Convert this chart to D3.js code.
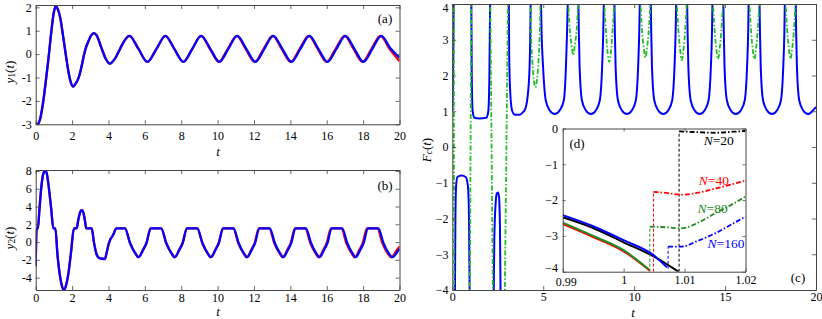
<!DOCTYPE html>
<html>
<head>
<meta charset="utf-8">
<script src="https://cdn.jsdelivr.net/npm/d3@7"></script>
<style>
body { margin: 0; background: #fff; }
svg { display: block; }
</style>
</head>
<body>
<svg id="fig" width="822" height="319" font-family="Liberation Serif, Tinos, DejaVu Serif, serif"></svg>
<script>
// ---- data ----
const tTicksAB = [0, 2, 4, 6, 8, 10, 12, 14, 16, 18, 20];
const yTicksA = [-3, -2, -1, 0, 1, 2];
const yTicksB = [-4, -2, 0, 2, 4, 6, 8];
const tTicksC = [0, 5, 10, 15, 20];
const yTicksC = [-4, -3, -2, -1, 0, 1, 2, 3, 4];
const tTicksD = [0.99, 1, 1.01, 1.02];
const yTicksD = [-4, -3, -2, -1, 0];

// (a) y1(t)
const y1Blue = [[0,-3.0],[0.12,-2.98],[0.25,-2.75],[0.4,-2.1],[0.55,-1.2],[0.7,-0.2],[0.85,0.9],[1.0,1.8],[1.1,2.05],[1.2,1.95],
  [1.35,1.55],[1.5,0.8],[1.65,0],[1.8,-0.75],[1.95,-1.25],[2.07,-1.39],[2.2,-1.25],[2.34,-1.05],[2.5,-0.6],[2.65,-0.05],
  [2.77,0.3],[2.9,0.55],[3.05,0.8],[3.2,0.9],[3.35,0.8],[3.6,0.3],[3.85,-0.2],[4.08,-0.41],[4.35,-0.2],[4.62,0.2],
  [4.9,0.6],[5.15,0.78],[5.65,0.225],[6.14,-0.33],[6.64,0.225],[7.13,0.78],[7.62,0.225],[8.12,-0.33],[8.61,0.225],
  [9.1,0.78],[9.6,0.225],[10.1,-0.33],[10.59,0.225],[11.08,0.78],[11.58,0.225],[12.08,-0.33],[12.57,0.225],
  [13.06,0.78],[13.56,0.225],[14.06,-0.33],[14.55,0.225],[15.05,0.78],[15.54,0.225],[16.04,-0.33],[16.53,0.225],
  [17.03,0.78],[17.52,0.225],[18.02,-0.33],[18.51,0.225],[19.0,0.78],[19.5,0.25],[20,-0.15]];
const y1Red = [[0,-3.0],[0.12,-2.98],[0.25,-2.75],[0.4,-2.1],[0.55,-1.2],[0.7,-0.2],[0.85,0.9],[1.0,1.8],[1.1,2.05],[1.2,1.95],
  [1.35,1.55],[1.5,0.8],[1.65,0],[1.8,-0.75],[1.95,-1.25],[2.07,-1.39],[2.2,-1.25],[2.34,-1.05],[2.5,-0.6],[2.65,-0.05],
  [2.77,0.3],[2.9,0.55],[3.05,0.8],[3.2,0.9],[3.35,0.8],[3.6,0.3],[3.85,-0.2],[4.08,-0.41],[4.35,-0.2],[4.62,0.2],
  [4.9,0.6],[5.15,0.78],[5.65,0.225],[6.14,-0.33],[6.64,0.225],[7.13,0.78],[7.62,0.225],[8.12,-0.33],[8.61,0.225],
  [9.08,0.78],[9.58,0.225],[10.07,-0.33],[10.56,0.225],[11.05,0.78],[11.54,0.225],[12.04,-0.33],[12.53,0.225],
  [13.03,0.78],[13.52,0.225],[14.02,-0.33],[14.51,0.225],[15.01,0.78],[15.5,0.225],[16.0,-0.33],[16.49,0.225],
  [16.98,0.78],[17.47,0.225],[17.97,-0.33],[18.46,0.225],[18.95,0.78],[19.45,0.225],[20,-0.3]];

// (b) y2(t)
const y2Blue = [[0,-2.7],[0.05,1.55],[0.12,1.55],[0.2,3.5],[0.3,6.0],[0.42,7.7],[0.52,8.05],[0.6,7.8],[0.7,6.5],[0.85,3.8],
  [0.97,1.55],[1.08,1.55],[1.2,-1.5],[1.35,-4.0],[1.45,-5.0],[1.55,-5.35],[1.65,-5.0],[1.8,-3.5],[1.95,-1.0],[2.1,1.55],
  [2.25,1.55],[2.35,2.6],[2.45,3.4],[2.53,3.6],[2.62,3.3],[2.7,2.5],[2.78,1.55],[3.08,1.55],[3.2,0.0],[3.35,-1.4],
  [3.5,-1.8],[3.8,-1.9],[3.9,-1.2],[4.0,-0.3],[4.1,0.3],[4.2,0.6],[4.3,1.0],[4.42,1.55],[4.91,1.55],
  [5.18,-0.07],[5.46,-1.2],[5.65,-1.7],[5.91,-0.85],[6.09,-0.1],[6.32,1.55],[6.9,1.55],
  [7.17,-0.07],[7.45,-1.2],[7.64,-1.7],[7.9,-0.85],[8.08,-0.1],[8.31,1.55],[8.89,1.55],
  [9.16,-0.07],[9.44,-1.2],[9.63,-1.7],[9.89,-0.85],[10.07,-0.1],[10.3,1.55],[10.88,1.55],
  [11.15,-0.07],[11.43,-1.2],[11.62,-1.7],[11.88,-0.85],[12.06,-0.1],[12.29,1.55],[12.87,1.55],
  [13.14,-0.07],[13.42,-1.2],[13.61,-1.7],[13.87,-0.85],[14.05,-0.1],[14.28,1.55],[14.86,1.55],
  [15.13,-0.07],[15.41,-1.2],[15.6,-1.7],[15.86,-0.85],[16.04,-0.1],[16.27,1.55],[16.85,1.55],
  [17.12,-0.07],[17.4,-1.2],[17.59,-1.7],[17.85,-0.85],[18.03,-0.1],[18.26,1.55],[18.84,1.55],
  [19.11,-0.07],[19.39,-1.2],[19.62,-1.7],[19.88,-1.1],[20,-0.75]];
const y2Red = [[0,-2.7],[0.05,1.55],[0.12,1.55],[0.2,3.5],[0.3,6.0],[0.42,7.7],[0.52,8.05],[0.6,7.8],[0.7,6.5],[0.85,3.8],
  [0.97,1.55],[1.08,1.55],[1.2,-1.5],[1.35,-4.0],[1.45,-5.0],[1.55,-5.35],[1.65,-5.0],[1.8,-3.5],[1.95,-1.0],[2.1,1.55],
  [2.25,1.55],[2.35,2.6],[2.45,3.4],[2.53,3.6],[2.62,3.3],[2.7,2.5],[2.78,1.55],[3.08,1.55],[3.2,0.0],[3.35,-1.4],
  [3.5,-1.8],[3.8,-1.9],[3.9,-1.2],[4.0,-0.3],[4.1,0.3],[4.2,0.6],[4.3,1.0],[4.42,1.55],[4.91,1.55],
  [5.18,-0.07],[5.46,-1.2],[5.65,-1.7],[5.91,-0.85],[6.09,-0.1],[6.32,1.55],[6.9,1.55],
  [7.17,-0.07],[7.45,-1.2],[7.64,-1.7],[7.9,-0.85],[8.08,-0.1],[8.31,1.55],[8.88,1.55],
  [9.15,-0.07],[9.43,-1.2],[9.62,-1.7],[9.88,-0.85],[10.06,-0.1],[10.29,1.55],[10.86,1.55],
  [11.13,-0.07],[11.41,-1.2],[11.6,-1.7],[11.86,-0.85],[12.04,-0.1],[12.27,1.55],[12.84,1.55],
  [13.11,-0.07],[13.39,-1.2],[13.58,-1.7],[13.84,-0.85],[14.02,-0.1],[14.25,1.55],[14.82,1.55],
  [15.09,-0.07],[15.37,-1.2],[15.56,-1.7],[15.82,-0.85],[16.0,-0.1],[16.23,1.55],[16.8,1.55],
  [17.07,-0.07],[17.35,-1.2],[17.54,-1.7],[17.8,-0.85],[17.98,-0.1],[18.21,1.55],[18.78,1.55],
  [19.05,-0.07],[19.33,-1.2],[19.56,-1.7],[19.82,-1.0],[20,-0.5]];

// (c) Fc(t), null = curve leaves the window
const fcBlue = [
  [0,1.0],[0.03,1.6],[0.06,3.0],[0.08,4.5], null,
  [0.14,-4.5],[0.17,-2.0],[0.21,-1.1],[0.28,-0.84],[0.5,-0.8],[0.74,-0.84],[0.86,-1.1],[0.92,-2.0],[0.96,-4.5], null,
  [1.04,4.5],[1.07,2.0],[1.12,1.0],[1.22,0.82],[1.5,0.8],[1.87,0.82],[1.98,1.0],[2.04,2.0],[2.09,4.5], null,
  [2.27,-4.5],[2.31,-2.6],[2.38,-1.6],[2.45,-1.3],[2.51,-1.27],[2.57,-1.4],[2.62,-2.2],[2.66,-4.5], null,
  [3.1,4.5],[3.13,2.5],[3.2,1.4],[3.3,1.0],[3.45,0.9],[3.7,0.9],[3.9,0.98],[4.0,1.05],[4.1,1.25],[4.16,1.5],[4.25,2.25],[4.29,3.2],[4.32,4.5], null,
  [4.86,4.5],[4.91,3.2],[4.99,2.25],[5.14,1.3],[5.35,1.03],[5.63,0.92],[5.91,1.03],[6.13,1.3],[6.25,2.25],[6.31,3.2],[6.37,4.5], null,
  [6.92,4.5],[6.96,3.2],[7.0,2.25],[7.13,1.3],[7.34,1.03],[7.62,0.92],[7.9,1.03],[8.11,1.3],[8.24,2.25],[8.3,3.2],[8.35,4.5], null,
  [8.9,4.5],[8.94,3.2],[8.98,2.25],[9.11,1.3],[9.32,1.03],[9.6,0.92],[9.88,1.03],[10.09,1.3],[10.22,2.25],[10.28,3.2],[10.33,4.5], null,
  [10.9,4.5],[10.94,3.2],[10.98,2.25],[11.11,1.3],[11.32,1.03],[11.6,0.92],[11.88,1.03],[12.09,1.3],[12.22,2.25],[12.28,3.2],[12.33,4.5], null,
  [12.9,4.5],[12.94,3.2],[12.98,2.25],[13.11,1.3],[13.32,1.03],[13.6,0.92],[13.88,1.03],[14.09,1.3],[14.22,2.25],[14.28,3.2],[14.32,4.5], null,
  [14.89,4.5],[14.93,3.2],[14.97,2.25],[15.1,1.3],[15.31,1.03],[15.59,0.92],[15.87,1.03],[16.08,1.3],[16.21,2.25],[16.27,3.2],[16.31,4.5], null,
  [16.88,4.5],[16.92,3.2],[16.96,2.25],[17.09,1.3],[17.3,1.03],[17.58,0.92],[17.86,1.03],[18.07,1.3],[18.2,2.25],[18.26,3.2],[18.3,4.5], null,
  [18.87,4.5],[18.91,3.2],[18.95,2.25],[19.08,1.3],[19.29,1.03],[19.57,0.92],[19.85,1.03],[20,1.12]
];
const fcGreen = [
  [0.08,4.5],[0.1,-4.5], null,
  [0.96,-4.5],[1.05,4.5], null,
  [2.08,4.5],[2.24,-4.5], null,
  [2.88,-4.5],[3.07,4.5], null,
  [4.29,4.5],[4.33,3.2],[4.4,2.4],[4.48,1.9],[4.57,1.67],[4.66,1.9],[4.74,2.4],[4.81,3.2],[4.86,4.5], null,
  [6.34,4.5],[6.4,3.8],[6.47,3.22],[6.55,2.89],[6.65,2.57],[6.75,2.89],[6.83,3.22],[6.9,3.8],[6.96,4.5], null,
  [8.32,4.5],[8.38,3.8],[8.45,3.22],[8.53,2.7],[8.63,2.38],[8.73,2.7],[8.81,3.22],[8.88,3.8],[8.94,4.5], null,
  [10.31,4.5],[10.37,3.8],[10.44,3.22],[10.52,2.82],[10.62,2.5],[10.72,2.82],[10.8,3.22],[10.87,3.8],[10.93,4.5], null,
  [12.31,4.5],[12.37,3.8],[12.44,3.22],[12.52,2.75],[12.62,2.43],[12.72,2.75],[12.8,3.22],[12.87,3.8],[12.93,4.5], null,
  [14.3,4.5],[14.36,3.8],[14.43,3.22],[14.51,2.78],[14.61,2.46],[14.71,2.78],[14.79,3.22],[14.86,3.8],[14.92,4.5], null,
  [16.3,4.5],[16.36,3.8],[16.43,3.22],[16.51,2.78],[16.61,2.46],[16.71,2.78],[16.79,3.22],[16.86,3.8],[16.92,4.5], null,
  [18.29,4.5],[18.35,3.8],[18.42,3.22],[18.5,2.79],[18.6,2.47],[18.7,2.79],[18.78,3.22],[18.85,3.8],[18.91,4.5]
];

// (d) inset, N = 20, 40, 80, 160
const insetN = ["20", "40", "80", "160"];
const insetColors = ["#000000", "#ff0000", "#228b22", "#0000ff"];
const insetSolid = [
  [[0.99,-2.48],[0.995,-2.78],[1.0,-3.18],[1.005,-3.58],[1.009,-4.0]],
  [[0.99,-2.67],[0.995,-3.03],[1.0,-3.43],[1.0043,-3.97]],
  [[0.99,-2.63],[0.995,-3.0],[1.0,-3.4],[1.0041,-3.93]],
  [[0.99,-2.42],[0.995,-2.73],[1.0,-3.12],[1.005,-3.55],[1.0071,-3.88]]
];
const insetJump = [
  [[1.0091,-4.0],[1.0091,-0.08]],
  [[1.0049,-4.0],[1.0049,-1.77]],
  [[1.0043,-4.0],[1.0043,-2.74]],
  [[1.0073,-3.92],[1.0073,-3.3]]
];
const insetAfter = [
  [[1.0091,-0.08],[1.012,-0.1],[1.015,-0.12],[1.018,-0.09],[1.02,-0.07]],
  [[1.0049,-1.77],[1.007,-1.8],[1.0095,-1.85],[1.012,-1.8],[1.015,-1.68],[1.018,-1.55],[1.02,-1.45]],
  [[1.0043,-2.74],[1.007,-2.76],[1.0095,-2.79],[1.012,-2.65],[1.015,-2.37],[1.018,-2.1],[1.02,-1.9]],
  [[1.0073,-3.3],[1.0095,-3.3],[1.012,-3.15],[1.015,-2.93],[1.018,-2.65],[1.02,-2.46]]
];
const insetLabelPos = [[1.0156,-0.33], [1.0148,-1.45], [1.0146,-2.23], [1.0168,-3.2]];

// ---- drawing ----
const FONT = "Liberation Serif, Tinos, DejaVu Serif, serif";
const svg = d3.select("#fig");
const minus = v => String(v).replace("-", "\u2212");

function makePanel(id, box, xDom, yDom) {
  const x = d3.scaleLinear().domain(xDom).range([box.x0, box.x1]);
  const y = d3.scaleLinear().domain(yDom).range([box.y1, box.y0]);
  svg.append("clipPath").attr("id", "clip-" + id)
    .append("rect").attr("x", box.x0).attr("y", box.y0)
    .attr("width", box.x1 - box.x0).attr("height", box.y1 - box.y0);
  const g = svg.append("g").attr("clip-path", "url(#clip-" + id + ")");
  return { x, y, g, box };
}

function drawAxes(p, xTicks, yTicks, fmtX, fmtY, padX, padY, tick) {
  const b = p.box;
  const ax = svg.append("g");
  const add = (axis, tx, ty) => ax.append("g").attr("transform", `translate(${tx},${ty})`)
    .call(axis).attr("font-size", 12).attr("font-family", FONT);
  const bottom = add(d3.axisBottom(p.x).tickValues(xTicks).tickFormat(fmtX).tickSizeInner(-tick).tickSizeOuter(0).tickPadding(padX), 0, b.y1);
  add(d3.axisTop(p.x).tickValues(xTicks).tickFormat("").tickSizeInner(-tick).tickSizeOuter(0), 0, b.y0);
  const left = add(d3.axisLeft(p.y).tickValues(yTicks).tickFormat(fmtY).tickSizeInner(-tick).tickSizeOuter(0).tickPadding(padY), b.x0, 0);
  add(d3.axisRight(p.y).tickValues(yTicks).tickFormat("").tickSizeInner(-tick).tickSizeOuter(0), b.x1, 0);
  ax.selectAll("path.domain").attr("stroke", "#444").attr("stroke-width", 1);
  ax.selectAll(".tick line").attr("stroke", "#444").attr("stroke-width", 0.8);
  ax.selectAll(".tick text").attr("fill", "#000").attr("font-family", FONT);
  return { left, bottom };
}

function curve(p, data, color, width, dash) {
  const line = d3.line().defined(d => d !== null)
    .x(d => p.x(d[0])).y(d => p.y(d[1])).curve(d3.curveMonotoneX);
  p.g.append("path").datum(data).attr("d", line)
    .attr("fill", "none").attr("stroke", color).attr("stroke-width", width)
    .attr("stroke-linejoin", "round").attr("stroke-dasharray", dash || null);
}

function mathLabel(xc, yc, parts, rotate, size, color) {
  const t = svg.append("text")
    .attr("transform", `translate(${xc},${yc})` + (rotate ? " rotate(-90)" : ""))
    .attr("text-anchor", "middle").attr("dominant-baseline", "central")
    .attr("font-family", FONT)
    .attr("font-size", size).attr("fill", color || "#000");
  parts.forEach(pt => {
    const s = t.append("tspan").text(pt.s);
    if (pt.i) s.attr("font-style", "italic");
    if (pt.sub) s.attr("font-size", size * 0.72).attr("dy", 3);
    if (pt.up) s.attr("dy", -3);
  });
  return t;
}

const dashDot = "5,2,1.5,2";

// (a)
const pa = makePanel("a", { x0: 35.7, x1: 399.5, y0: 5, y1: 124.3 }, [0, 20], [-3, 2.1]);
curve(pa, y1Red, "#ff0000", 2.3);
curve(pa, y1Blue, "#0000ff", 2.3);
drawAxes(pa, tTicksAB, yTicksA, d => d, d => d, 7.5, 4, 4);

// (b)
const pb = makePanel("b", { x0: 35.7, x1: 399.5, y0: 170, y1: 290 }, [0, 20], [-5.39, 8.11]);
curve(pb, y2Red, "#ff0000", 2.3);
curve(pb, y2Blue, "#0000ff", 2.3);
drawAxes(pb, tTicksAB, yTicksB, d => d, d => d, 3, 4, 4);

// (c)
const pc = makePanel("c", { x0: 452.3, x1: 816, y0: 4, y1: 290 }, [0, 20], [-4, 4]);
curve(pc, fcBlue, "#0000ff", 2);
curve(pc, fcGreen, "#1fbf1f", 1.8, dashDot);
const axC = drawAxes(pc, tTicksC, yTicksC, d => d, minus, 2, 3.8, 4);
// keep the top label inside the picture
axC.left.selectAll(".tick text").filter(d => d === 4).attr("dy", "0.62em");

// (d) inset
const boxD = { x0: 562.7, x1: 745.5, y0: 128.5, y1: 271.7 };
svg.append("rect").attr("x", boxD.x0).attr("y", boxD.y0)
  .attr("width", boxD.x1 - boxD.x0).attr("height", boxD.y1 - boxD.y0).attr("fill", "#fff");
const pd = makePanel("d", boxD, [0.99, 1.02], [-4, 0]);
insetN.forEach((n, i) => {
  curve(pd, insetSolid[i], insetColors[i], 2);
  curve(pd, insetJump[i], insetColors[i], 1, "3,2");
  curve(pd, insetAfter[i], insetColors[i], 1.8, dashDot);
});
const axD = drawAxes(pd, tTicksD, yTicksD, d => d, minus, 4, 4.7, 3);
axD.left.selectAll(".tick text").filter(d => d === -4).attr("dy", "-0.05em");
axD.bottom.selectAll(".tick text").filter(d => d === 0.99).attr("dx", "0.25em").attr("dy", "0.85em");
insetN.forEach((n, i) => {
  mathLabel(pd.x(insetLabelPos[i][0]), pd.y(insetLabelPos[i][1]),
    [{ s: "N", i: true }, { s: "=" + n }], false, 13.5, insetColors[i]);
});

// axis labels
mathLabel(9, 72, [{ s: "y", i: true }, { s: "1", sub: true }, { s: "(", up: true }, { s: "t", i: true }, { s: ")" }], true, 13);
mathLabel(9, 238, [{ s: "y", i: true }, { s: "2", sub: true }, { s: "(", up: true }, { s: "t", i: true }, { s: ")" }], true, 13);
mathLabel(426, 150, [{ s: "F", i: true }, { s: "c", i: true, sub: true }, { s: "(", up: true }, { s: "t", i: true }, { s: ")" }], true, 13);
mathLabel(218, 151, [{ s: "t", i: true }], false, 13);
mathLabel(218, 310.5, [{ s: "t", i: true }], false, 13);
mathLabel(633, 312, [{ s: "t", i: true }], false, 13);

// panel tags
mathLabel(385, 18, [{ s: "(a)" }], false, 13);
mathLabel(385, 185, [{ s: "(b)" }], false, 13);
mathLabel(798, 277, [{ s: "(c)" }], false, 13);
mathLabel(577, 143, [{ s: "(d)" }], false, 13);
</script>
</body>
</html>
